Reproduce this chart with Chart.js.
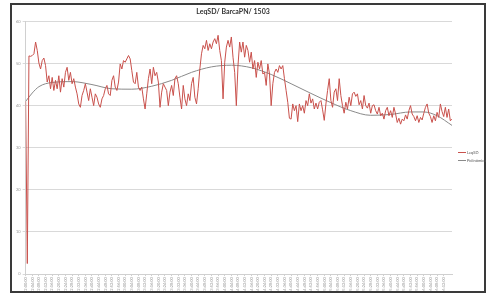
<!DOCTYPE html>
<html>
<head>
<meta charset="utf-8">
<script src="https://cdn.jsdelivr.net/npm/chart.js@4.4.1/dist/chart.umd.min.js"></script>
<style>
  html, body { margin: 0; padding: 0; background: #fff; }
  #wrap { position: relative; width: 488px; height: 295px; }
  #chart { position: absolute; left: 0; top: 0; }
  #frame { position: absolute; left: 10px; top: 3px; width: 476px; height: 290px;
           box-sizing: border-box; border: 2px solid #3a3a3a; pointer-events: none; }
  .leg { position: absolute; left: 458px; font: 4px "Lato", sans-serif; color: #555; white-space: nowrap; }
  .leg span { display: inline-block; width: 8px; height: 0; vertical-align: middle; margin-right: 1px; }
</style>
</head>
<body>
<div id="wrap">
  <canvas id="chart" width="488" height="295"></canvas>
  <div id="frame"></div>
  <div class="leg" style="top:150px"><span style="border-top:1px solid #c9514c"></span>LeqSD</div>
  <div class="leg" style="top:158px"><span style="border-top:1px solid #8a8a8a"></span>Polinómica</div>
</div>
<script>
const chartTitle = 'LeqSD/ BarcaPN/ 1503';

// LeqSD readings, one per sample
const leqValues = [
  41.0, 2.5, 51.8,
  51.7, 51.9, 52.3, 55.1, 53.1, 50.1, 48.7, 50.7, 51.3, 49.5,
  45.6, 47.1, 44.0, 46.7, 43.6, 46.0, 44.0, 47.1, 43.2, 46.4,
  44.4, 47.9, 49.1, 46.0, 47.9, 45.2, 46.4, 44.4, 42.8, 40.4,
  39.6, 42.4, 43.6, 45.2, 43.2, 41.2, 44.0, 42.0, 40.0, 42.8,
  42.0, 40.4, 39.6, 41.6, 42.4, 44.0, 44.8, 42.8, 42.4,
  46.0, 47.1, 44.4, 43.6, 45.6, 49.9, 48.7, 50.7, 50.3, 51.1,
  51.9, 51.1, 48.3, 45.6, 45.2, 47.9, 44.4, 43.6, 44.4, 41.6,
  39.2, 42.8, 46.4, 48.7, 45.2, 49.1, 47.1, 47.9, 45.6, 39.6,
  43.2, 45.2, 44.4, 43.6, 40.0, 43.2, 44.8, 42.4, 46.4, 47.1,
  45.2, 42.0, 39.2, 44.8, 41.6, 40.0, 42.8, 41.2, 45.2, 46.7,
  42.0,
  40.4, 44.0, 48.7, 52.3, 54.3, 53.5, 55.5, 53.1, 54.7, 53.5,
  55.1, 55.9, 54.7, 56.7, 53.1, 50.7, 41.6, 50.3, 53.9, 55.5,
  53.9, 56.3, 51.5, 47.9, 40.0, 49.5, 55.1, 52.7, 55.1, 51.5,
  54.3, 53.1, 50.3, 52.7, 48.7, 50.7, 46.7, 50.3, 48.7, 50.7,
  47.5, 47.9, 44.8, 49.9, 47.5, 40.0, 45.2, 47.9, 48.7, 47.9,
  49.5,
  48.7, 49.5, 46.4, 43.6, 40.8, 37.0, 36.8, 40.4, 38.8, 40.0,
  36.2, 40.4, 38.8, 40.0, 38.2, 41.2, 40.0, 42.8, 40.6, 41.6,
  39.2, 40.6, 39.2, 40.8, 41.2, 39.0, 36.5, 40.4, 43.6, 46.4,
  41.2, 39.6, 43.2, 44.0, 41.2, 46.4, 42.4, 40.0, 38.2, 40.8,
  39.2, 42.0, 40.0, 42.8, 43.2, 42.2, 42.8, 40.2, 41.2, 39.2,
  42.4,
  40.0, 39.4, 40.6, 38.2, 40.0, 40.2, 38.8, 38.0, 39.6, 37.6,
  38.2, 36.8, 38.8, 39.6, 37.6, 38.8, 37.2, 39.6, 38.0, 36.0,
  37.0, 35.6, 36.8, 36.4, 37.8, 36.8, 38.8, 40.0, 38.0, 37.4,
  36.4, 37.6, 36.0, 37.2, 36.6, 38.2, 39.6, 40.4, 38.2, 37.4,
  36.0, 37.6, 36.4, 38.4, 37.2, 40.4, 38.6, 37.4, 39.6, 37.2,
  39.2, 36.4, 36.8
];

// polynomial trend line, read at a few sample positions
const trendIndex  = [0, 4, 8, 16, 28, 40, 52, 64, 76, 88, 100, 112, 124, 136, 148, 160, 172, 184, 196, 208, 220, 232, 240, 248, 257];
const trendValues = [41.0, 43.0, 44.5, 45.5, 45.7, 45.0, 44.0, 43.9, 44.6, 46.0, 47.9, 49.2, 49.6, 49.0, 47.4, 45.2, 42.9, 40.7, 38.8, 37.7, 37.9, 38.5, 38.5, 37.6, 35.3];

// one label every 4 samples
const tickLabels = [
  '12:00:00','12:04:00','12:08:00','12:12:00','12:16:00','12:20:00','12:24:00','12:28:00',
  '12:32:00','12:36:00','12:40:00','12:44:00','12:48:00','12:52:00','12:56:00',
  '13:00:00','13:04:00','13:08:00','13:12:00','13:16:00','13:20:00','13:24:00','13:28:00',
  '13:32:00','13:36:00','13:40:00','13:44:00','13:48:00','13:52:00','13:56:00',
  '14:00:00','14:04:00','14:08:00','14:12:00','14:16:00','14:20:00','14:24:00','14:28:00',
  '14:32:00','14:36:00','14:40:00','14:44:00','14:48:00','14:52:00','14:56:00',
  '15:00:00','15:04:00','15:08:00','15:12:00','15:16:00','15:20:00','15:24:00','15:28:00',
  '15:32:00','15:36:00','15:40:00','15:44:00','15:48:00','15:52:00','15:56:00',
  '16:00:00','16:04:00','16:08:00','16:12:00','16:16:00'
];

const ctx = document.getElementById('chart').getContext('2d');
new Chart(ctx, {
    type: 'line',
    data: {
        datasets: [{
            label: 'LeqSD',
            data: leqValues.map((v, i) => ({ x: i, y: v })),
            borderColor: '#c9514c',
            borderWidth: 1,
            pointRadius: 0,
            tension: 0
        }, {
            label: 'Polinómica',
            data: trendIndex.map((x, k) => ({ x: x, y: trendValues[k] })),
            borderColor: '#8a8a8a',
            borderWidth: 1,
            pointRadius: 0,
            cubicInterpolationMode: 'monotone'
        }]
    },
    options: {
        responsive: false,
        animation: false,
        layout: { padding: { left: 14, right: 36, top: 8, bottom: 1 } },
        plugins: {
            legend: { display: false },
            tooltip: { enabled: false },
            title: {
                display: true,
                text: chartTitle,
                color: '#333',
                font: { family: 'Lato', size: 7, weight: 'bold' },
                padding: { top: 0, bottom: 5 }
            }
        },
        scales: {
            x: {
                type: 'linear',
                min: 0,
                max: leqValues.length - 1,
                grid: { drawOnChartArea: false, tickLength: 2, color: '#d0d0d0' },
                border: { color: '#d0d0d0' },
                ticks: {
                    stepSize: 4,
                    maxTicksLimit: 100,
                    autoSkip: false,
                    maxRotation: 90,
                    minRotation: 90,
                    padding: 1,
                    color: '#999',
                    font: { family: 'Lato', size: 4 },
                    callback: (v) => tickLabels[v / 4]
                }
            },
            y: {
                min: 0,
                max: 60,
                grid: { color: '#d9d9d9', tickLength: 3 },
                border: { color: '#d0d0d0' },
                ticks: {
                    stepSize: 10,
                    padding: 2,
                    color: '#999',
                    font: { family: 'Lato', size: 4 }
                }
            }
        }
    }
});
</script>
</body>
</html>
